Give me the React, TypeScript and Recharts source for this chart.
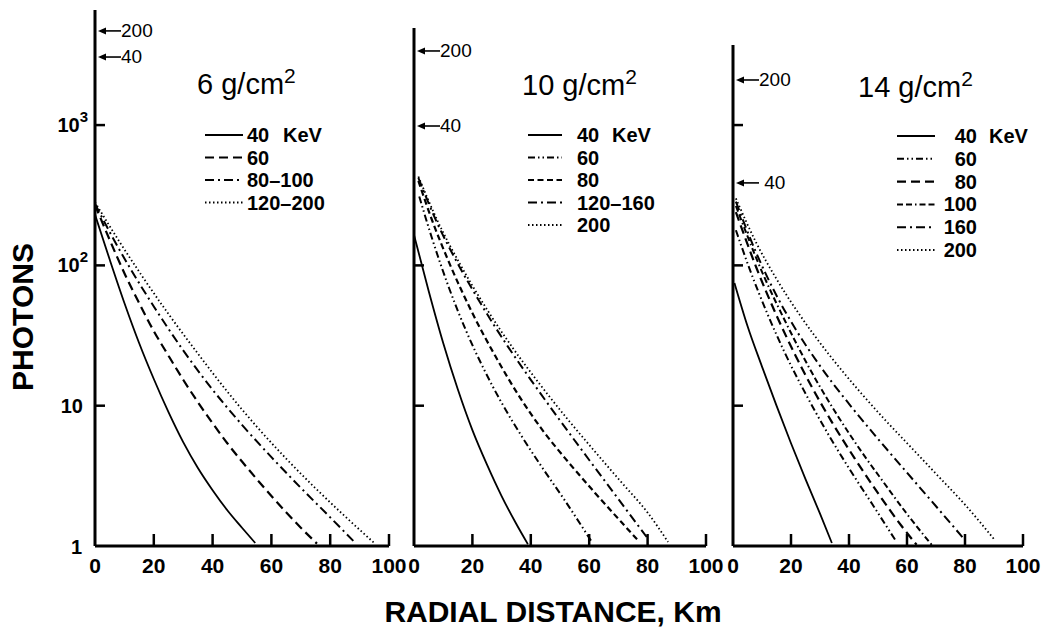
import React from "react";
import { LineChart, Line, XAxis, YAxis, ReferenceDot, Legend } from "recharts";

const W = 1050;
const H = 627;
const FONT = '"Liberation Sans", Arial, Helvetica, sans-serif';

// radial distance (km) ticks, shared by the three panels
const kmTicks = [0, 20, 40, 60, 80, 100];

// photons vs radial distance, [km, photons]
// 6 g/cm2
const g6_40: [number, number][] = [[0, 230], [5, 110], [10, 54], [15, 28], [20, 15.5], [25, 9], [30, 5.5], [35, 3.6], [40, 2.5], [45, 1.8], [50, 1.35], [54.5, 1.05]];
const g6_60: [number, number][] = [[0, 270], [5, 152], [10, 88], [15, 54], [20, 34], [25, 22.7], [30, 15.3], [35, 10.6], [40, 7.5], [45, 5.4], [50, 4.0], [55, 3.0], [60, 2.27], [65, 1.74], [70, 1.35], [75.5, 1.04]];
const g6_80: [number, number][] = [[0, 275], [6, 158], [12, 95], [20, 51], [30, 24.8], [40, 13], [50, 7.3], [60, 4.3], [70, 2.6], [80, 1.6], [88, 1.08]];
const g6_120: [number, number][] = [[0, 282], [8, 151], [16, 84], [25, 45], [35, 23.5], [45, 12.6], [55, 7.1], [65, 4.2], [75, 2.58], [85, 1.63], [95, 1.05]];

// 10 g/cm2
const g10_40: [number, number][] = [[0, 165], [5, 66], [10, 28], [15, 13.1], [20, 6.7], [25, 3.8], [30, 2.27], [35, 1.44], [39, 1.03]];
const g10_60: [number, number][] = [[1.8, 310], [6, 160], [12, 69], [18, 33.6], [24, 18.1], [30, 10.5], [37, 6], [44, 3.6], [52, 2.06], [61, 1.06]];
const g10_80: [number, number][] = [[1.5, 400], [6, 215], [12, 105], [20, 45.7], [28, 22.3], [36, 11.7], [44, 6.7], [53, 3.93], [62, 2.39], [71, 1.48], [77, 1.08]];
const g10_120: [number, number][] = [[1.5, 420], [8, 199], [15, 103], [23, 52.8], [32, 26.7], [41, 14.3], [50, 7.85], [60, 4.1], [70, 2.16], [80.5, 1.1]];
const g10_200: [number, number][] = [[1.5, 430], [8, 209], [16, 100], [25, 48.5], [34, 25.5], [43, 14.3], [52, 8.3], [62, 4.7], [71, 2.85], [80, 1.73], [87, 1.07]];

// 14 g/cm2
const g14_40: [number, number][] = [[0.5, 75], [5, 37], [10, 19], [15, 10], [20, 5.4], [25, 3], [30, 1.7], [34.1, 1.05]];
const g14_60: [number, number][] = [[1, 178], [6, 91], [12, 44.5], [18, 23.5], [25, 12.2], [32, 6.7], [40, 3.58], [48, 1.99], [56, 1.1]];
const g14_80: [number, number][] = [[1, 240], [8, 97], [15, 44], [21, 24], [27, 13.8], [34, 7.7], [42, 4.2], [50, 2.38], [58, 1.4], [63.3, 1.02]];
const g14_100: [number, number][] = [[1, 265], [10, 90], [18, 40], [27, 17.5], [35, 9.2], [44, 4.8], [52, 2.83], [60, 1.69], [68.5, 1.02]];
const g14_160: [number, number][] = [[1, 285], [8, 123], [15, 61], [22, 34], [30, 19.2], [40, 10.3], [50, 5.8], [60, 3.33], [70, 1.92], [80, 1.1]];
const g14_200: [number, number][] = [[1, 300], [8, 145], [15, 80], [23, 44.4], [33, 23.3], [43, 13.1], [52, 8.1], [61, 5.15], [70, 3.27], [80, 1.97], [90.3, 1.1]];

// energies (KeV) in the legends
const g6_labels = ["40", "60", "80–100", "120–200"];
const g10_labels = ["40", "60", "80", "120–160", "200"];
const g14_labels = ["40", "60", "80", "100", "160", "200"];

// the arrows on the photon axis
const g6_arrows = [{ label: "200", value: 4690 }, { label: "40", value: 3055 }];
const g10_arrows = [{ label: "200", value: 3375 }, { label: "40", value: 985 }];
const g14_arrows = [{ label: "200", value: 2095 }, { label: " 40", value: 387 }];

const SOLID = undefined;
const DASH = "9 5";
const SHORTDASH = "6 3.5";
const DASHDOT = "9 4 2 4";
const DOT = "1.5 2.5";
const DASHDOTDOT = "7 3 1.5 3 1.5 3";
const LONGDASHDOT = "6 3 6 3 1.5 3";

type Series = { pts: [number, number][]; dash?: string; w: number };

type Panel = {
  id: string;
  title: string;
  left: number;
  right: number;
  top: number;
  ymax: number;
  yTicks: number[];
  yLabels: boolean;
  series: Series[];
  labels: string[];
  arrows: { label: string; value: number }[];
  titleX: number;
  titleY: number;
  legend: { sx: number; len: number; tx: number; y0: number; dy: number; anchor: "start" | "end"; kevX: number };
};

const BOTTOM = 546;

const panels: Panel[] = [
  {
    id: "g6",
    title: "6",
    left: 95,
    right: 389,
    top: 10,
    ymax: 6610,
    yTicks: [1, 10, 100, 1000],
    yLabels: true,
    series: [
      { pts: g6_40, dash: SOLID, w: 1.8 },
      { pts: g6_60, dash: DASH, w: 2.2 },
      { pts: g6_80, dash: DASHDOT, w: 2 },
      { pts: g6_120, dash: DOT, w: 1.8 },
    ],
    labels: g6_labels,
    arrows: g6_arrows,
    titleX: 197,
    titleY: 94,
    legend: { sx: 205, len: 38, tx: 247, y0: 135, dy: 22.5, anchor: "start", kevX: 283 },
  },
  {
    id: "g10",
    title: "10",
    left: 414,
    right: 706,
    top: 28,
    ymax: 4920,
    yTicks: [10, 100],
    yLabels: false,
    series: [
      { pts: g10_40, dash: SOLID, w: 1.8 },
      { pts: g10_60, dash: DASHDOTDOT, w: 2 },
      { pts: g10_80, dash: SHORTDASH, w: 2.2 },
      { pts: g10_120, dash: DASHDOT, w: 2 },
      { pts: g10_200, dash: DOT, w: 1.8 },
    ],
    labels: g10_labels,
    arrows: g10_arrows,
    titleX: 522,
    titleY: 95,
    legend: { sx: 528, len: 34, tx: 577, y0: 135, dy: 22.5, anchor: "start", kevX: 612 },
  },
  {
    id: "g14",
    title: "14",
    left: 733,
    right: 1023,
    top: 45,
    ymax: 3720,
    yTicks: [10, 100, 1000],
    yLabels: false,
    series: [
      { pts: g14_40, dash: SOLID, w: 1.8 },
      { pts: g14_60, dash: DASHDOTDOT, w: 2 },
      { pts: g14_80, dash: DASH, w: 2.2 },
      { pts: g14_100, dash: LONGDASHDOT, w: 2 },
      { pts: g14_160, dash: DASHDOT, w: 2 },
      { pts: g14_200, dash: DOT, w: 1.8 },
    ],
    labels: g14_labels,
    arrows: g14_arrows,
    titleX: 858,
    titleY: 97,
    legend: { sx: 897, len: 38, tx: 977, y0: 136, dy: 22.8, anchor: "end", kevX: 989 },
  },
];

const YTick = (props: any) => {
  const { x, y, payload, showLabel } = props;
  const v = payload.value;
  let label: React.ReactNode = null;
  if (showLabel) {
    if (v === 1) label = <text x={x - 13} y={y + 8} textAnchor="end">1</text>;
    else if (v === 10) label = <text x={x - 12} y={y + 7} textAnchor="end">10</text>;
    else
      label = (
        <text x={x - 7} y={y + 7} textAnchor="end">
          10<tspan dy={-10} fontSize={15}>{v === 100 ? "2" : "3"}</tspan>
        </text>
      );
  }
  return (
    <g fontFamily={FONT} fontSize={20} fontWeight="bold" fill="#000">
      {v > 1 && <line x1={x} x2={x + 10} y1={y} y2={y} stroke="#000" strokeWidth={2.5} />}
      {label}
    </g>
  );
};

const XTick = (props: any) => {
  const { x, y, payload } = props;
  return (
    <g>
      {payload.value > 0 && <line x1={x} x2={x} y1={y} y2={y - 12} stroke="#000" strokeWidth={2.5} />}
      <text x={x} y={y + 27} textAnchor="middle" fontFamily={FONT} fontSize={21} fontWeight="bold" fill="#000">
        {payload.value}
      </text>
    </g>
  );
};

const Arrow = (props: any) => {
  const { cx, cy, label } = props;
  return (
    <g>
      <line x1={cx + 8} x2={cx + 26} y1={cy} y2={cy} stroke="#000" strokeWidth={1.6} />
      <path d={`M${cx + 3},${cy} l8,-3.5 v7 z`} fill="#000" />
      <text x={cx + 26} y={cy + 6} fontFamily={FONT} fontSize={19} fill="#000" style={{ whiteSpace: "pre" }}>
        {label}
      </text>
    </g>
  );
};

const PanelLegend = ({ p }: { p: Panel }) => {
  const L = p.legend;
  return (
    <svg width={W} height={H} style={{ position: "absolute", left: 0, top: 0 }}>
      <text x={p.titleX} y={p.titleY} fontFamily={FONT} fontSize={29} fill="#000">
        {p.title} g/cm<tspan dy={-11} fontSize={21}>2</tspan>
      </text>
      {p.series.map((s, i) => {
        const cy = L.y0 + i * L.dy;
        return (
          <g key={i}>
            <line x1={L.sx} x2={L.sx + L.len} y1={cy} y2={cy} stroke="#000" strokeWidth={s.w} strokeDasharray={s.dash} />
            <text x={L.tx} y={cy + 7} textAnchor={L.anchor} fontFamily={FONT} fontSize={20} fontWeight="bold" fill="#000">
              {p.labels[i]}
            </text>
            {i === 0 && (
              <text x={L.kevX} y={cy + 7} fontFamily={FONT} fontSize={20} fontWeight="bold" fill="#000">
                KeV
              </text>
            )}
          </g>
        );
      })}
    </svg>
  );
};

const PanelChart = ({ p }: { p: Panel }) => (
  <div style={{ position: "absolute", left: 0, top: 0, width: W, height: H }}>
    <LineChart
      width={W}
      height={H}
      margin={{ top: p.top, left: p.left - 1, right: W - p.right, bottom: H - BOTTOM - 1 }}
    >
      <XAxis
        dataKey="r"
        type="number"
        domain={[0, 100]}
        ticks={kmTicks}
        interval={0}
        height={1}
        tickSize={0}
        tickMargin={0}
        tickLine={false}
        axisLine={{ stroke: "#000", strokeWidth: 3 }}
        tick={<XTick />}
      />
      <YAxis
        type="number"
        scale="log"
        domain={[1, p.ymax]}
        allowDataOverflow
        ticks={p.yTicks}
        interval={0}
        width={1}
        tickSize={0}
        tickMargin={0}
        tickLine={false}
        axisLine={{ stroke: "#000", strokeWidth: 3 }}
        tick={(tp: any) => <YTick {...tp} showLabel={p.yLabels} />}
      />
      {p.series.map((s, i) => (
        <Line
          key={i}
          data={s.pts.map(([r, n]) => ({ r, n }))}
          dataKey="n"
          type="monotone"
          stroke="#000"
          strokeWidth={s.w}
          strokeDasharray={s.dash}
          dot={false}
          activeDot={false}
          isAnimationActive={false}
        />
      ))}
      {p.arrows.map((a, i) => (
        <ReferenceDot
          key={i}
          x={0}
          y={a.value}
          r={0}
          ifOverflow="visible"
          shape={(sp: any) => <Arrow {...sp} label={a.label} />}
        />
      ))}
      <Legend
        layout="vertical"
        align="center"
        verticalAlign="middle"
        wrapperStyle={{ left: 0, top: 0, width: W, height: H, pointerEvents: "none" }}
        content={() => <PanelLegend p={p} />}
      />
    </LineChart>
  </div>
);

export default function App() {
  return (
    <div style={{ position: "absolute", left: 0, top: 0, width: W, height: H, background: "#fff", overflow: "hidden" }}>
      {panels.map((p) => (
        <PanelChart key={p.id} p={p} />
      ))}
      <svg width={W} height={H} style={{ position: "absolute", left: 0, top: 0, pointerEvents: "none" }}>
        <text
          x={33}
          y={317}
          transform="rotate(-90, 33, 317)"
          textAnchor="middle"
          fontFamily={FONT}
          fontSize={30}
          fontWeight="bold"
          fill="#000"
        >
          PHOTONS
        </text>
        <text x={553} y={622} textAnchor="middle" fontFamily={FONT} fontSize={30} fontWeight="bold" fill="#000">
          RADIAL DISTANCE, Km
        </text>
      </svg>
    </div>
  );
}
